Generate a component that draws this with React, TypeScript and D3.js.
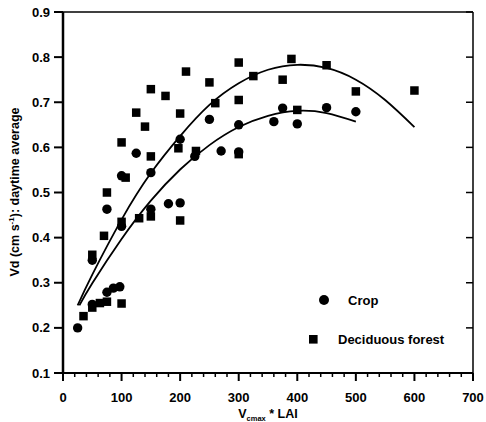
import React from "react";
import * as d3 from "d3";

// Crop (circles)
const cropX = [25, 50, 50, 75, 75, 86, 97, 100, 100, 125, 150, 150, 180, 200, 200, 225, 250, 270, 300, 300, 360, 375, 400, 450, 500];
const cropY = [0.2, 0.252, 0.35, 0.279, 0.463, 0.288, 0.291, 0.425, 0.537, 0.587, 0.463, 0.544, 0.475, 0.477, 0.618, 0.58, 0.662, 0.592, 0.59, 0.65, 0.657, 0.687, 0.652, 0.688, 0.679];

// Deciduous forest (squares)
const forestX = [35, 50, 50, 63, 75, 70, 75, 100, 100, 100, 107, 125, 130, 140, 150, 150, 150, 175, 197, 200, 200, 210, 227, 250, 260, 300, 300, 300, 325, 375, 390, 400, 450, 500, 600];
const forestY = [0.226, 0.245, 0.362, 0.255, 0.258, 0.404, 0.5, 0.254, 0.435, 0.611, 0.533, 0.677, 0.443, 0.646, 0.447, 0.58, 0.729, 0.714, 0.598, 0.438, 0.675, 0.768, 0.592, 0.744, 0.698, 0.585, 0.705, 0.788, 0.758, 0.75, 0.796, 0.683, 0.782, 0.724, 0.726];

// Fitted curves
const forestFitX = [25, 50, 100, 150, 200, 250, 300, 350, 400, 450, 500, 550, 600];
const forestFitY = [0.25, 0.318, 0.44, 0.543, 0.625, 0.694, 0.742, 0.772, 0.783, 0.776, 0.75, 0.705, 0.645];
const cropFitX = [28, 50, 100, 150, 200, 250, 300, 350, 400, 450, 500];
const cropFitY = [0.25, 0.299, 0.397, 0.482, 0.551, 0.605, 0.645, 0.67, 0.681, 0.676, 0.657];

const xTicks = [0, 100, 200, 300, 400, 500, 600, 700];
const yTicks = [0.1, 0.2, 0.3, 0.4, 0.5, 0.6, 0.7, 0.8, 0.9];

const W = 486, H = 422;
const L = 63, R = 473, T = 12, B = 373;

export default function App() {
  const x = d3.scaleLinear().domain([0, 700]).range([L, R]);
  const y = d3.scaleLinear().domain([0.1, 0.9]).range([B, T]);
  const minor = d3.range(0, 701, 20).filter((v) => v % 100 !== 0);
  const line = d3.line<[number, number]>().x((d) => x(d[0])).y((d) => y(d[1])).curve(d3.curveNatural);
  const forestFit = line(forestFitX.map((v, i) => [v, forestFitY[i]]) as [number, number][]) || "";
  const cropFit = line(cropFitX.map((v, i) => [v, cropFitY[i]]) as [number, number][]) || "";
  const font = "'Liberation Sans', Arial, sans-serif";
  const sq = 8.5;
  return (
    <svg width={W} height={H} style={{ position: "absolute", left: 0, top: 0, background: "#fff" }} fontFamily={font}>
      {/* frame */}
      <line x1={L} x2={R} y1={T} y2={T} stroke="#000" strokeWidth={1.5} />
      <line x1={R} x2={R} y1={T} y2={B} stroke="#000" strokeWidth={1.5} />
      <line x1={L} x2={L} y1={T} y2={B} stroke="#000" strokeWidth={2.5} />
      <line x1={L} x2={R} y1={B} y2={B} stroke="#000" strokeWidth={2} />
      {/* x ticks */}
      {xTicks.map((t) => (
        <g key={"x" + t}>
          <line x1={x(t)} x2={x(t)} y1={B} y2={B + 8} stroke="#000" strokeWidth={2} />
          <text x={x(t)} y={402} textAnchor="middle" fontSize={13} fontWeight="bold">{t}</text>
        </g>
      ))}
      {minor.map((t) => (
        <line key={"m" + t} x1={x(t)} x2={x(t)} y1={B} y2={B + 4} stroke="#000" strokeWidth={1.5} />
      ))}
      {/* y ticks */}
      {yTicks.map((t) => (
        <g key={"y" + t}>
          <line x1={L - 9} x2={L} y1={y(t)} y2={y(t)} stroke="#000" strokeWidth={2} />
          <line x1={R - 7} x2={R} y1={y(t)} y2={y(t)} stroke="#000" strokeWidth={1.5} />
          <text x={L - 13} y={y(t) + 4.5} textAnchor="end" fontSize={13} fontWeight="bold">{d3.format(".1f")(t)}</text>
        </g>
      ))}
      {/* axis titles */}
      <text transform={`translate(19,192) rotate(-90)`} textAnchor="middle" fontSize={12.5} fontWeight="bold">
        Vd (cm s<tspan fontSize={8} dy={-5}>-1</tspan><tspan dy={5}>): daytime average</tspan>
      </text>
      <text x={268} y={418} textAnchor="middle" fontSize={12.5} fontWeight="bold">
        V<tspan fontSize={7.5} dy={3}>cmax</tspan><tspan dy={-3}> * LAI</tspan>
      </text>
      {/* fits */}
      <path d={forestFit} fill="none" stroke="#000" strokeWidth={1.8} />
      <path d={cropFit} fill="none" stroke="#000" strokeWidth={1.8} />
      {/* points */}
      {cropX.map((v, i) => (
        <circle key={"c" + i} cx={x(v)} cy={y(cropY[i])} r={4.7} fill="#000" />
      ))}
      {forestX.map((v, i) => (
        <rect key={"s" + i} x={x(v) - sq / 2} y={y(forestY[i]) - sq / 2} width={sq} height={sq} fill="#000" />
      ))}
      {/* legend */}
      <circle cx={324} cy={300} r={5} fill="#000" />
      <text x={348} y={305} fontSize={13} fontWeight="bold">Crop</text>
      <rect x={313.3 - 4.3} y={339.3 - 4.3} width={8.6} height={8.6} fill="#000" />
      <text x={338} y={343.5} fontSize={13} fontWeight="bold">Deciduous forest</text>
    </svg>
  );
}
